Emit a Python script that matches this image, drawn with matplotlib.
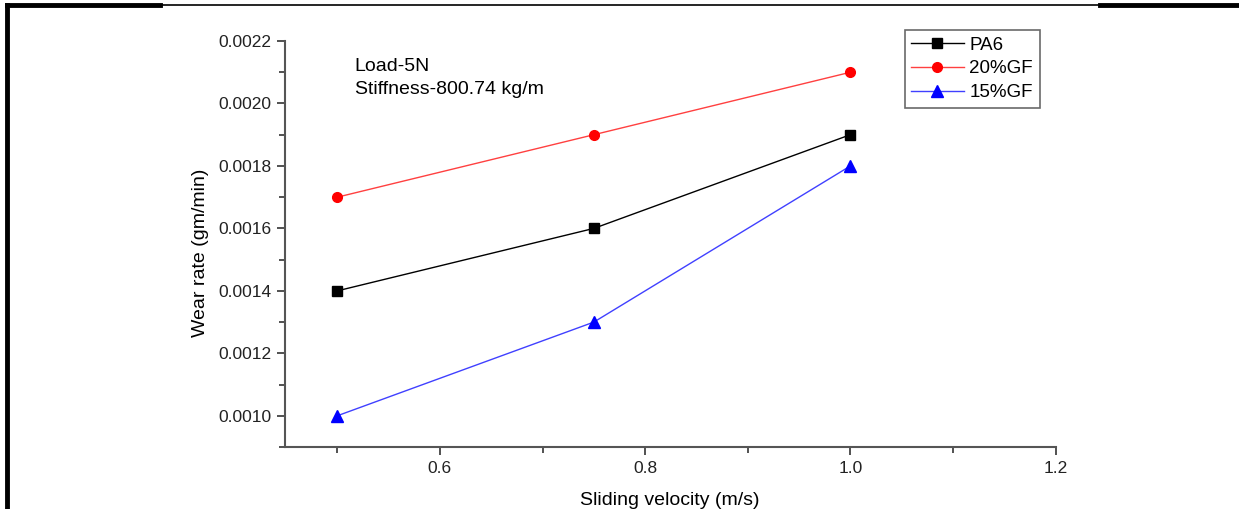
import matplotlib.pyplot as plt
from matplotlib.lines import Line2D
from matplotlib.ticker import MultipleLocator, FormatStrFormatter

plt.rcParams['font.family'] = ['Liberation Sans', 'DejaVu Sans']

# data
velocity = [0.5, 0.75, 1.0]
pa6 = [0.0014, 0.0016, 0.0019]
gf20 = [0.0017, 0.0019, 0.0021]
gf15 = [0.0010, 0.0013, 0.0018]

fig = plt.figure(figsize=(12.39, 5.09), dpi=100)
ax = fig.add_axes([0.230, 0.1218, 0.622, 0.7976])

ax.plot(velocity, pa6, color='black', lw=1, marker='s', ms=7, mfc='black', mec='black', label='PA6')
ax.plot(velocity, gf20, color='#ff4040', lw=1, marker='o', ms=7, mfc='red', mec='red', label='20%GF')
ax.plot(velocity, gf15, color='#4040ff', lw=1, marker='^', ms=8, mfc='blue', mec='blue', label='15%GF')

ax.set_xlim(0.449, 1.2)
ax.set_ylim(0.0009, 0.0022)
ax.xaxis.set_major_locator(MultipleLocator(0.2))
ax.xaxis.set_minor_locator(MultipleLocator(0.1))
ax.yaxis.set_major_locator(MultipleLocator(0.0002))
ax.yaxis.set_minor_locator(MultipleLocator(0.0001))
ax.yaxis.set_major_formatter(FormatStrFormatter('%.4f'))
ax.xaxis.set_major_formatter(FormatStrFormatter('%.1f'))

for s in ['top', 'right']:
    ax.spines[s].set_visible(False)
for s in ['left', 'bottom']:
    ax.spines[s].set_color('#555555')
    ax.spines[s].set_linewidth(1.5)
ax.tick_params(which='major', length=6, width=1.2, color='#333333', labelsize=12.5, labelcolor='#222222', pad=4)
ax.tick_params(which='minor', length=4, width=1.2, color='#333333')

ax.set_xlabel('Sliding velocity (m/s)', fontsize=14)
ax.set_ylabel('Wear rate (gm/min)', fontsize=14)
ax.xaxis.set_label_coords(0.499, -0.110)
ax.yaxis.set_label_coords(-0.110, 0.478)
ax.yaxis.label.set_va('center')

ax.text(0.0905, 0.958, 'Load-5N\nStiffness-800.74 kg/m', transform=ax.transAxes,
        fontsize=14, va='top', ha='left', linespacing=1.45)

leg = fig.legend(loc='upper right', bbox_to_anchor=(0.839, 0.941), fontsize=13.5,
                 frameon=True, fancybox=False, edgecolor='#444444', handlelength=2.8,
                 borderpad=0.35, labelspacing=0.35, handletextpad=0.3, borderaxespad=0)
leg.get_frame().set_linewidth(1.2)

# page border fragments
fig.add_artist(Line2D([7/1239, 7/1239], [0, 1 - 5/509], color='black', lw=3.5))
fig.add_artist(Line2D([7/1239, 160/1239], [1 - 5/509, 1 - 5/509], color='black', lw=3.5))
fig.add_artist(Line2D([160/1239, 1100/1239], [1 - 5/509, 1 - 5/509], color='black', lw=1.2))
fig.add_artist(Line2D([1100/1239, 1238/1239], [1 - 5/509, 1 - 5/509], color='black', lw=3.5))

fig.savefig('out.png', dpi=100)
